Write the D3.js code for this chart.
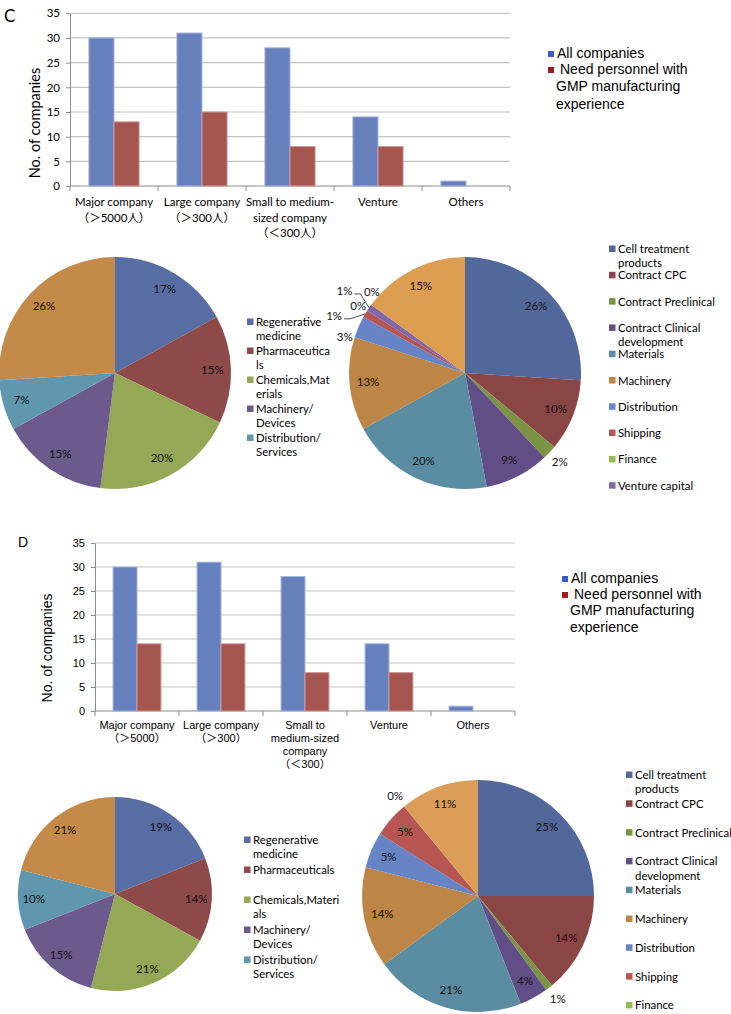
<!DOCTYPE html>
<html>
<head>
<meta charset="utf-8">
<script src="https://cdn.jsdelivr.net/npm/d3@7"></script>
<style>
  body { margin: 0; background: #fff; }
  svg { display: block; }
</style>
</head>
<body>
<svg id="fig" width="731" height="1014"></svg>
<script>
// ---- data ----
const companyTypesC = [["Major company", "（＞5000人）"], ["Large company", "（＞300人）"],
  ["Small to medium-", "sized company", "（＜300人）"], ["Venture"], ["Others"]];
const allCompaniesC = [30, 31, 28, 14, 1];
const needGmpC = [13, 15, 8, 8, 0];

const companyTypesD = [["Major company", "（＞5000）"], ["Large company", "（＞300）"],
  ["Small to", "medium-sized", "company", "（＜300）"], ["Venture"], ["Others"]];
const allCompaniesD = [30, 31, 28, 14, 1];
const needGmpD = [14, 14, 8, 8, 0];

const yTicks = [0, 5, 10, 15, 20, 25, 30, 35];
const seriesNames = [["All companies"], ["Need personnel with", "GMP manufacturing", "experience"]];

// left pies: business sector (6th slice has no visible legend entry)
const sectorNamesC = [["Regenerative", "medicine"], ["Pharmaceutica", "ls"], ["Chemicals,Mat", "erials"],
  ["Machinery/", "Devices"], ["Distribution/", "Services"]];
const sectorShareC = [17, 15, 20, 15, 7, 26];
const sectorNamesD = [["Regenerative", "medicine"], ["Pharmaceuticals"], ["Chemicals,Materi", "als"],
  ["Machinery/", "Devices"], ["Distribution/", "Services"]];
const sectorShareD = [19, 14, 21, 15, 10, 21];

// right pies: field of business (last slices are cut from the legend)
const fieldNamesC = [["Cell treatment", "products"], ["Contract CPC"], ["Contract Preclinical"],
  ["Contract Clinical", "development"], ["Materials"], ["Machinery"], ["Distribution"],
  ["Shipping"], ["Finance"], ["Venture capital"]];
const fieldShareC = [26, 10, 2, 9, 20, 13, 3, 1, 0, 1, 0, 15];
const fieldNamesD = [["Cell treatment", "products"], ["Contract CPC"], ["Contract Preclinical"],
  ["Contract Clinical", "development"], ["Materials"], ["Machinery"], ["Distribution"],
  ["Shipping"], ["Finance"]];
const fieldShareD = [25, 14, 1, 4, 21, 14, 5, 5, 0, 11];

// ---- styles ----
const CAL = "Lato, 'Noto Sans CJK JP', sans-serif";
const ARIAL = "'Liberation Sans', Arial, 'Noto Sans CJK JP', sans-serif";
const barFill = ["#6680be", "#a55550"];
const barEdge = ["#a3b3dc", "#cf9a96"];
const keyFill = ["#3a5ccc", "#9e1a1a"];
const sectorColors = ["#586da3", "#8e4a49", "#94a855", "#6c5a8d", "#5f97ae", "#c38a49"];
const fieldColorsC = ["#52679a", "#8a4644", "#7a9444", "#614e86", "#5b8da2", "#bd8546",
  "#6784c6", "#b65552", "#98b954", "#8068a8", "#4bacc6", "#de9e52"];
const fieldColorsD = ["#52679a", "#8a4644", "#7a9444", "#614e86", "#5b8da2", "#bd8546",
  "#6784c6", "#b65552", "#98b954", "#db9d57"];

const svg = d3.select("#fig");

function barChart(o) {
  const g = svg.append("g");
  const x = d3.scaleBand().domain(d3.range(o.cats.length))
    .range([o.left, o.right]).paddingInner(0.43).paddingOuter(0.215);
  const sub = d3.scaleBand().domain([0, 1]).range([0, x.bandwidth()]);
  const y = d3.scaleLinear().domain([0, 35]).range([o.bottom, o.top]);

  g.selectAll("line.grid").data(yTicks.slice(1)).join("line").attr("class", "grid")
    .attr("x1", o.left).attr("x2", o.right)
    .attr("y1", d => y(d)).attr("y2", d => y(d))
    .attr("stroke", "#c4c4c4").attr("stroke-width", 1.2);

  const ya = g.append("g").attr("transform", `translate(${o.left},0)`)
    .call(d3.axisLeft(y).tickValues(yTicks).tickSize(4).tickSizeOuter(0).tickPadding(6));
  ya.select(".domain").attr("stroke", "#8c8c8c");
  ya.selectAll(".tick line").attr("stroke", "#8c8c8c");
  ya.selectAll(".tick text").attr("fill", "#000")
    .style("font-family", o.font).style("font-size", o.tickSize + "px");

  // x axis with ticks on category boundaries
  g.append("line").attr("x1", o.left).attr("x2", o.right).attr("y1", y(0)).attr("y2", y(0))
    .attr("stroke", "#8c8c8c");
  g.selectAll("line.xt").data(d3.range(o.cats.length + 1)).join("line").attr("class", "xt")
    .attr("x1", i => o.left + i * x.step()).attr("x2", i => o.left + i * x.step())
    .attr("y1", y(0)).attr("y2", y(0) + 5).attr("stroke", "#8c8c8c");

  const series = [o.all, o.need];
  g.selectAll("g.s").data(series).join("g").attr("class", "s")
    .attr("fill", (d, i) => barFill[i]).attr("stroke", (d, i) => barEdge[i])
    .selectAll("rect")
    .data((d, si) => d.map((v, ci) => ({ v, ci, si })).filter(b => b.v > 0))
    .join("rect")
    .attr("x", d => x(d.ci) + sub(d.si)).attr("width", sub.bandwidth())
    .attr("y", d => y(d.v)).attr("height", d => y(0) - y(d.v));

  const cl = g.selectAll("text.cat").data(o.cats).join("text").attr("class", "cat")
    .attr("text-anchor", "middle").style("font-family", o.font).style("font-size", o.catSize + "px");
  cl.each(function (lines, i) {
    const cx = x(i) + x.bandwidth() / 2;
    d3.select(this).selectAll("tspan").data(lines).join("tspan")
      .attr("x", cx).attr("y", (s, k) => y(0) + o.catDy + k * o.catLh).text(s => s);
  });

  g.append("text").attr("transform", `translate(${o.titleX},${o.titleY}) rotate(-90)`)
    .attr("text-anchor", "middle").style("font-family", o.font).style("font-size", o.titleSize + "px")
    .text("No. of companies");

  g.append("text").attr("x", o.letterX).attr("y", o.letterY)
    .style("font-family", o.font).style("font-size", o.letterSize + "px").text(o.letter);

  // series key
  const k = o.key;
  g.append("rect").attr("x", k.x).attr("y", k.y).attr("width", 6).attr("height", 6).attr("fill", keyFill[0]);
  g.append("text").attr("x", k.x + 9).attr("y", k.y + 6.5)
    .style("font-family", ARIAL).style("font-size", "14px").text(seriesNames[0][0]);
  g.append("rect").attr("x", k.x).attr("y", k.y + k.gap).attr("width", 6).attr("height", 6).attr("fill", keyFill[1]);
  const t2 = g.append("text").style("font-family", ARIAL).style("font-size", "14px");
  seriesNames[1].forEach((s, j) => {
    t2.append("tspan").attr("x", j === 0 ? k.x + 12 : k.x + 8)
      .attr("y", k.y + k.gap + 6.5 + j * k.lh).text(s);
  });
}

function pieChart(o) {
  const g = svg.append("g").attr("transform", `translate(${o.cx},${o.cy})`);
  const arcs = d3.pie().sort(null).value(d => d)(o.values);
  const arc = d3.arc().innerRadius(0).outerRadius(o.r);
  g.selectAll("path").data(arcs).join("path").attr("d", arc).attr("fill", (d, i) => o.colors[i]);

  const inner = d3.arc().innerRadius(o.r * 0.84).outerRadius(o.r * 0.84);
  const outer = d3.arc().innerRadius(o.r + 14).outerRadius(o.r + 14);
  const edge = d3.arc().innerRadius(o.r).outerRadius(o.r);
  arcs.forEach((a, i) => {
    let p;
    if (a.data < 4) {
      p = outer.centroid(a);
      const n = (o.nudge || {})[i];
      if (n) {
        p = [p[0] + n[0], p[1] + n[1]];
        if (n[2]) {
          const e = edge.centroid(a);
          const s = [p[0] + 10, p[1] + 3];
          g.append("polyline")
            .attr("points", [s, [s[0] + 6, s[1]], e].map(q => q.join(",")).join(" "))
            .attr("fill", "none").attr("stroke", "#222").attr("stroke-width", 0.8);
        }
      }
    } else {
      p = inner.centroid(a);
    }
    g.append("text").attr("x", p[0]).attr("y", p[1]).attr("dy", "0.35em")
      .attr("text-anchor", "middle").style("font-family", CAL).style("font-size", "11.5px")
      .attr("fill", "#111").text(a.data + "%");
  });

  const lg = svg.append("g");
  o.names.forEach((lines, i) => {
    const by = o.ly + i * o.lstep;
    lg.append("rect").attr("x", o.lx).attr("y", by - 7.5).attr("width", 6.5).attr("height", 6.5)
      .attr("fill", o.colors[i]);
    const t = lg.append("text").style("font-family", CAL).style("font-size", "11.4px");
    lines.forEach((s, k) => t.append("tspan").attr("x", o.lx + 9).attr("y", by + k * 14.2).text(s));
  });
}

barChart({
  cats: companyTypesC, all: allCompaniesC, need: needGmpC,
  left: 70, right: 510, top: 13.3, bottom: 186, font: CAL,
  tickSize: 11.5, catSize: 11.5, catDy: 20, catLh: 15.5,
  titleX: 40, titleY: 123, titleSize: 14.5,
  letter: "C", letterX: 4, letterY: 22, letterSize: 17,
  key: { x: 548, y: 51, gap: 16, lh: 17.5 }
});

barChart({
  cats: companyTypesD, all: allCompaniesD, need: needGmpD,
  left: 95, right: 515, top: 543, bottom: 711, font: ARIAL,
  tickSize: 11, catSize: 11, catDy: 18, catLh: 13,
  titleX: 52, titleY: 648, titleSize: 14,
  letter: "D", letterX: 18, letterY: 547, letterSize: 14,
  key: { x: 562, y: 576, gap: 16, lh: 16.5 }
});

pieChart({ cx: 115, cy: 373, r: 116, values: sectorShareC, colors: sectorColors,
  names: sectorNamesC, lx: 247, ly: 326, lstep: 29 });
pieChart({ cx: 465, cy: 373, r: 116, values: fieldShareC, colors: fieldColorsC,
  names: fieldNamesC, lx: 609, ly: 253, lstep: 26.3,
  nudge: { 6: [-1, 16], 7: [-19, 9, true], 8: [3, 3], 9: [-13, -9, true], 10: [12, -5] } });
pieChart({ cx: 115, cy: 894, r: 97, values: sectorShareD, colors: sectorColors,
  names: sectorNamesD, lx: 244, ly: 844, lstep: 30 });
pieChart({ cx: 478, cy: 896, r: 116, values: fieldShareD, colors: fieldColorsD,
  names: fieldNamesD, lx: 626, ly: 779, lstep: 28.8 });
</script>
</body>
</html>
